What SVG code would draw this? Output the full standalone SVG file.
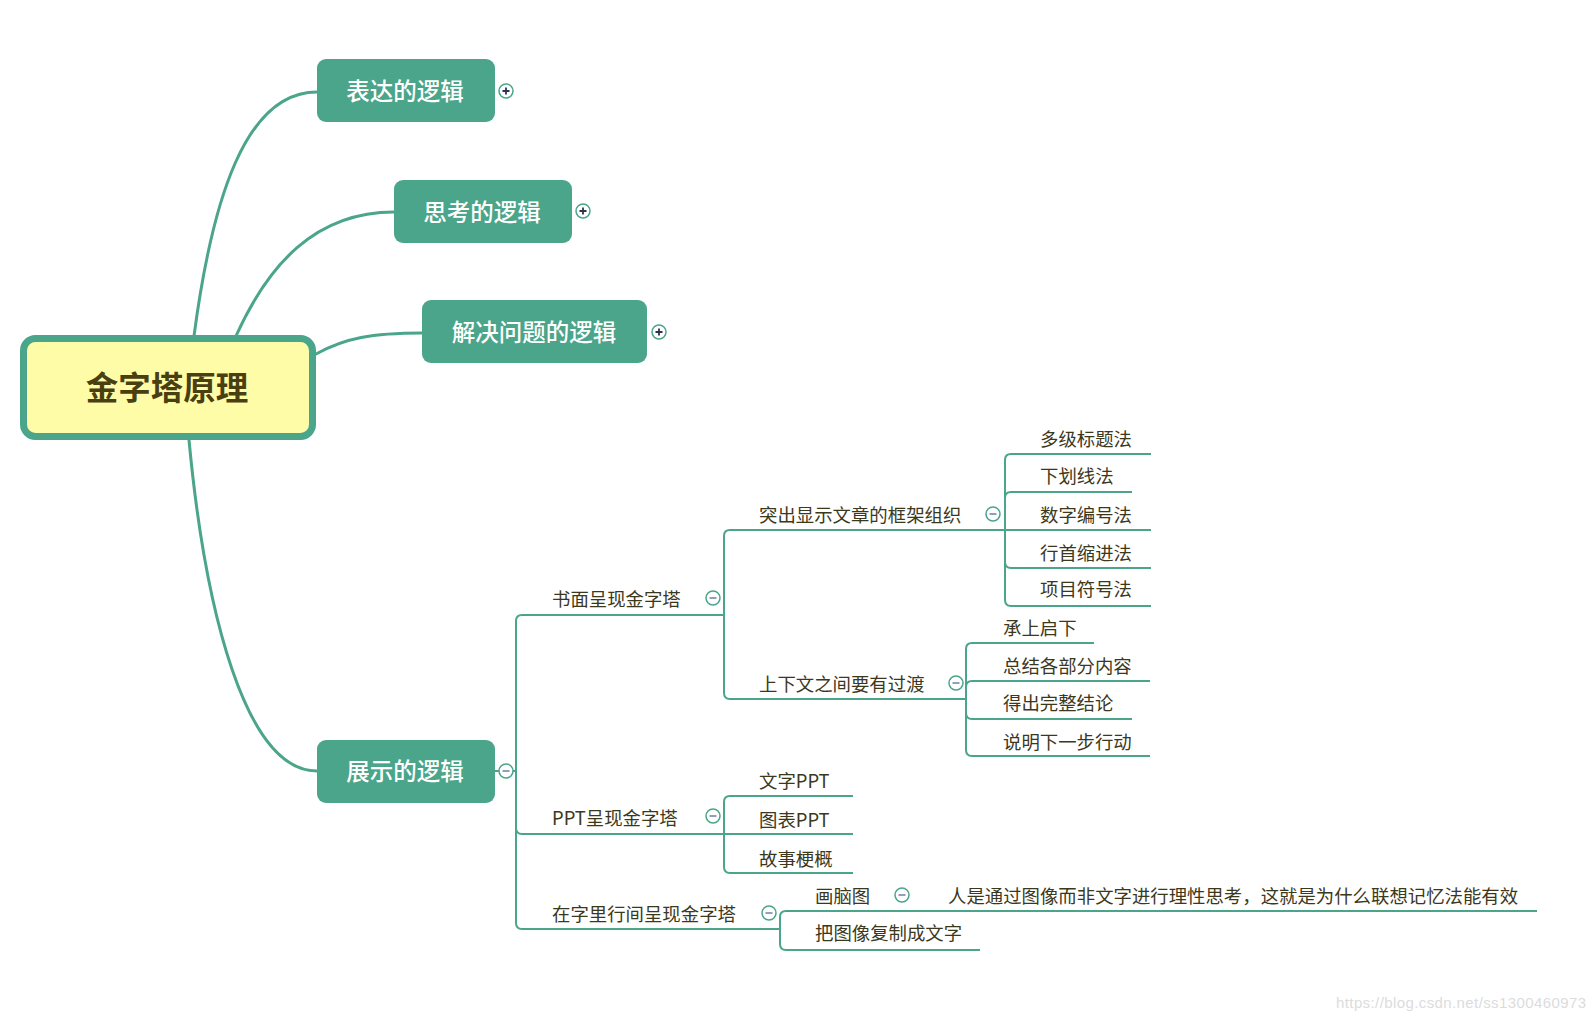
<svg xmlns="http://www.w3.org/2000/svg" width="1596" height="1020" viewBox="0 0 1596 1020">
<style>
.bg{fill:#ffffff}
.main{fill:none;stroke:#4aa58a;stroke-width:3;stroke-linecap:round}
.sub{fill:none;stroke:#4aa58a;stroke-width:2}
.n1{fill:#4aa58a}
.t1{font-family:"Noto Sans CJK SC","Noto Sans",sans-serif;font-size:23.5px;font-weight:500;fill:#ffffff;text-anchor:middle;dominant-baseline:central}
.t0{font-family:"Noto Sans CJK SC","Noto Sans",sans-serif;font-size:32.5px;font-weight:bold;fill:#4a3f10;text-anchor:middle;dominant-baseline:central}
.t2{font-family:"Noto Sans CJK SC","Noto Sans",sans-serif;font-size:18.4px;fill:#3c381c;dominant-baseline:central}
.tg{fill:#ffffff;stroke:#4aa58a;stroke-width:1.5}
.pl{stroke:#2c3350;stroke-width:1.8}
.mi{stroke:#8593b5;stroke-width:1.8}
.wm{font-family:"Liberation Sans",sans-serif;font-size:15px;fill:#dcdcdc}
</style>
<defs>
<g id="plus"><circle class="tg" r="7"/><path class="pl" d="M-3.5 0H3.5M0 -3.5V3.5"/></g>
<g id="minus"><circle class="tg" r="7"/><path class="mi" d="M-3.5 0H3.5"/></g>
</defs>
<rect class="bg" width="1596" height="1020"/>

<g id="connectors">
<path class="main" d="M194 336 C212 200 245 92 317 92"/>
<path class="main" d="M236 336 C268 265 315 212 394 212"/>
<path class="main" d="M316 354 C345 338 372 333 422 333"/>
<path class="main" d="M189 440 C205 610 245 771 317 771"/>
<path class="sub" d="M495 771H499"/>
<path class="sub" d="M513 771H516V621Q516 615 522 615H724"/>
<path class="sub" d="M516 771V828Q516 834 522 834H724"/>
<path class="sub" d="M516 771V923Q516 929 522 929H780"/>
<path class="sub" d="M724 615V536Q724 530 730 530H1005"/>
<path class="sub" d="M724 615V693Q724 699 730 699H966"/>
<path class="sub" d="M1005 530V460Q1005 454 1011 454H1151"/>
<path class="sub" d="M1005 530V498Q1005 492 1011 492H1132"/>
<path class="sub" d="M1005 530H1151"/>
<path class="sub" d="M1005 530V562Q1005 568 1011 568H1151"/>
<path class="sub" d="M1005 530V600Q1005 606 1011 606H1151"/>
<path class="sub" d="M966 699V649Q966 643 972 643H1094"/>
<path class="sub" d="M966 699V687Q966 681 972 681H1150"/>
<path class="sub" d="M966 699V713Q966 719 972 719H1132"/>
<path class="sub" d="M966 699V750Q966 756 972 756H1150"/>
<path class="sub" d="M724 834V802Q724 796 730 796H853"/>
<path class="sub" d="M724 834H853"/>
<path class="sub" d="M724 834V867Q724 873 730 873H853"/>
<path class="sub" d="M780 929V917Q780 911 786 911H1537"/>
<path class="sub" d="M780 929V944Q780 950 786 950H980"/>
</g>

<g id="root">
<rect x="23.5" y="338.5" width="289" height="98" rx="12" fill="#fffca8" stroke="#4aa58a" stroke-width="7"/>
<text class="t0" x="167" y="385">金字塔原理</text>
</g>

<g id="n-biaoda">
<rect class="n1" x="317" y="59" width="178" height="63" rx="9"/>
<text class="t1" x="405" y="90">表达的逻辑</text>
<use href="#plus" x="506" y="91"/>
</g>
<g id="n-sikao">
<rect class="n1" x="394" y="180" width="178" height="63" rx="9"/>
<text class="t1" x="482" y="211">思考的逻辑</text>
<use href="#plus" x="583" y="211"/>
</g>
<g id="n-jiejue">
<rect class="n1" x="422" y="300" width="225" height="63" rx="9"/>
<text class="t1" x="534" y="331">解决问题的逻辑</text>
<use href="#plus" x="659" y="332"/>
</g>
<g id="n-zhanshi">
<rect class="n1" x="317" y="740" width="178" height="63" rx="9"/>
<text class="t1" x="405" y="770">展示的逻辑</text>
<use href="#minus" x="506" y="771"/>
</g>

<g id="n-shumian"><text class="t2" x="552" y="598">书面呈现金字塔</text><use href="#minus" x="713" y="598"/></g>
<g id="n-ppt"><text class="t2" x="552" y="817">PPT呈现金字塔</text><use href="#minus" x="713" y="816"/></g>
<g id="n-zili"><text class="t2" x="552" y="913">在字里行间呈现金字塔</text><use href="#minus" x="769" y="913"/></g>
<g id="n-tuchu"><text class="t2" x="759" y="514">突出显示文章的框架组织</text><use href="#minus" x="993" y="514"/></g>
<g id="n-shangxia"><text class="t2" x="759" y="683">上下文之间要有过渡</text><use href="#minus" x="956" y="683"/></g>
<g id="n-duoji"><text class="t2" x="1040" y="438">多级标题法</text></g>
<g id="n-xiahua"><text class="t2" x="1040" y="475">下划线法</text></g>
<g id="n-shuzi"><text class="t2" x="1040" y="514">数字编号法</text></g>
<g id="n-hangshou"><text class="t2" x="1040" y="552">行首缩进法</text></g>
<g id="n-xiangmu"><text class="t2" x="1040" y="588">项目符号法</text></g>
<g id="n-cheng"><text class="t2" x="1003" y="627">承上启下</text></g>
<g id="n-zongjie"><text class="t2" x="1003" y="665">总结各部分内容</text></g>
<g id="n-dechu"><text class="t2" x="1003" y="702">得出完整结论</text></g>
<g id="n-shuoming"><text class="t2" x="1003" y="741">说明下一步行动</text></g>
<g id="n-wenzippt"><text class="t2" x="759" y="780">文字PPT</text></g>
<g id="n-tubiao"><text class="t2" x="759" y="819">图表PPT</text></g>
<g id="n-gushi"><text class="t2" x="759" y="858">故事梗概</text></g>
<g id="n-naotu"><text class="t2" x="815" y="895">画脑图</text><use href="#minus" x="902" y="895"/></g>
<g id="n-ren"><text class="t2" x="948" y="895">人是通过图像而非文字进行理性思考，这就是为什么联想记忆法能有效</text></g>
<g id="n-batu"><text class="t2" x="815" y="932">把图像复制成文字</text></g>

<text class="wm" x="1336" y="1008" textLength="250">https://blog.csdn.net/ss1300460973</text>
</svg>
